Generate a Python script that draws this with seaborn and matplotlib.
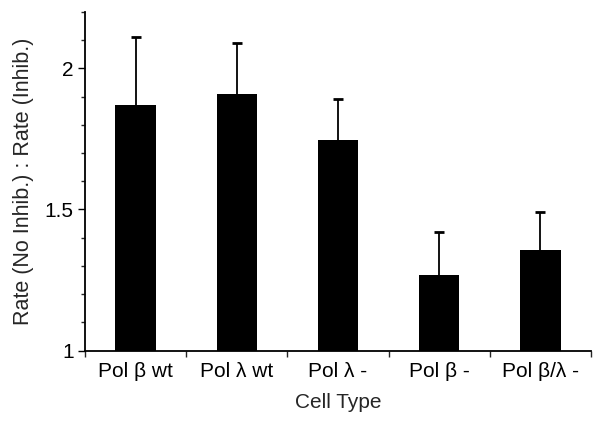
import pandas as pd
import seaborn as sns
import matplotlib.pyplot as plt
import numpy as np
from matplotlib.ticker import MultipleLocator

# values
cell_types = ["Pol β wt", "Pol λ wt", "Pol λ -", "Pol β -", "Pol β/λ -"]
ratio = [1.869, 1.908, 1.747, 1.268, 1.358]
err_top = [2.111, 2.091, 1.891, 1.419, 1.490]
err = [t - r for t, r in zip(err_top, ratio)]

df = pd.DataFrame({"cell": cell_types, "ratio": ratio})

sns.set_style("ticks")
plt.rcParams["font.family"] = ["Liberation Sans", "DejaVu Sans"]

fig, ax = plt.subplots(figsize=(6.04, 4.21), dpi=100)
fig.subplots_adjust(left=0.1407, right=0.9785, bottom=0.167, top=0.972)

sns.barplot(data=df, x="cell", y="ratio", color="black", width=0.4,
            saturation=1, ax=ax, errorbar=None, linewidth=0)
# upper error bars only
_, caps, _ = ax.errorbar(np.arange(len(ratio)), ratio, yerr=[np.zeros(len(err)), err],
                         fmt="none", ecolor="black", elinewidth=1.3,
                         capsize=3.5, capthick=2)
caps[0].set_visible(False)

ax.set_ylim(1, 2.2)
ax.set_xlim(-0.5, 4.5)
ax.yaxis.set_major_locator(MultipleLocator(0.5))
ax.yaxis.set_minor_locator(MultipleLocator(0.1))
ax.yaxis.set_major_formatter(plt.FuncFormatter(lambda v, p: f"{v:g}"))

# x ticks at category boundaries, labels at centres
ax.set_xticks(np.arange(-0.5, 5, 1), minor=True)
ax.tick_params(axis="x", which="major", length=0, pad=8)
ax.tick_params(axis="x", which="minor", length=4, width=1, direction="out")
ax.tick_params(axis="y", which="major", length=5, width=1, direction="out", pad=3)
ax.tick_params(axis="y", which="minor", length=3, width=1, direction="out")
ax.tick_params(labelsize=15, colors="black")

for s in ["left", "bottom"]:
    ax.spines[s].set_linewidth(1.3)
    ax.spines[s].set_color("black")
sns.despine(ax=ax)

ax.set_xlabel("Cell Type", fontsize=15, labelpad=9)
ax.set_ylabel("Rate (No Inhib.) : Rate (Inhib.)", fontsize=15.5, labelpad=8)

plt.savefig("out.png", dpi=100)
